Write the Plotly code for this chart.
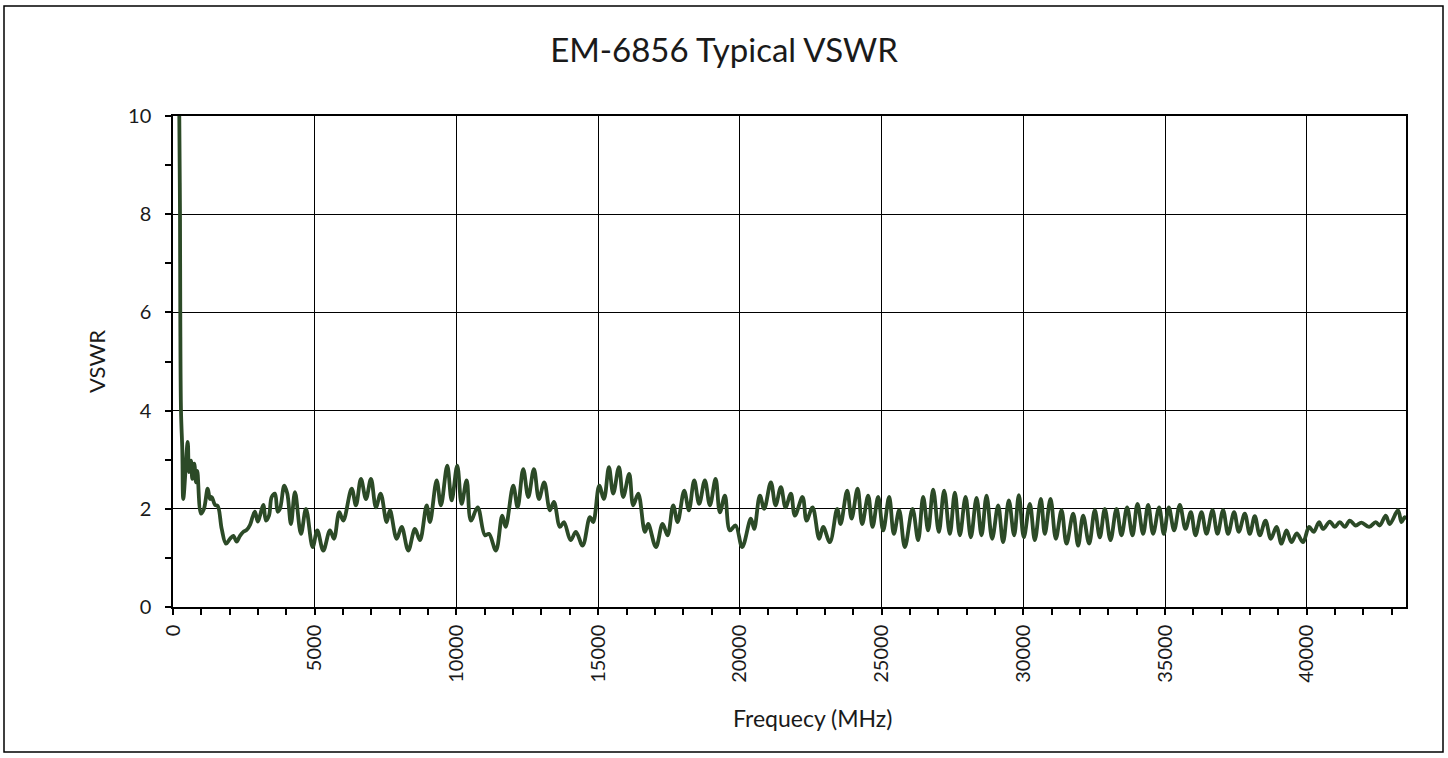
import plotly.graph_objects as go

# Frequency (MHz) and VSWR (peaks / troughs of the ripple)
freq_mhz = [
    200, 222, 247, 257, 282, 328, 363, 519, 564, 635, 681, 751, 811, 857, 988, 1093,
    1224, 1305, 1365, 1481, 1577, 1718, 1869, 2011, 2127, 2247, 2363, 2480, 2600, 2716,
    2811, 2892, 2988, 3069, 3185, 3280, 3386, 3481, 3598, 3693, 3774, 3926, 4032, 4162,
    4303, 4515, 4691, 4928, 5090, 5302, 5538, 5679, 5866, 6007, 6303, 6455, 6631, 6808,
    6984, 7160, 7326, 7538, 7654, 7891, 8067, 8300, 8536,
    8712, 8949, 9065, 9302, 9453, 9675, 9831, 10028, 10183, 10360, 10511, 10748, 11005,
    11146, 11393, 11615, 11735, 12003, 12159, 12356, 12533, 12734, 12910, 13097,
    13298, 13439, 13651, 13792, 14028, 14215, 14451, 14709, 14825, 15037, 15203, 15379,
    15531, 15732, 15883, 16095, 16236, 16413, 16649, 16765, 17037, 17273, 17449,
    17647, 17802, 18035, 18201, 18388, 18564, 18765, 18942, 19143, 19294, 19471, 19647,
    19848, 20081, 20388, 20504, 20705, 20857, 21093, 21259, 21446, 21611, 21799, 21940,
    22211, 22352, 22564, 22796, 22938, 23174, 23432, 23552, 23785, 23940, 24152, 24314,
    24525, 24681, 24878, 25055, 25266, 25432, 25619, 25820, 26091, 26289,
    26465, 26641, 26818, 27019, 27206, 27407, 27583, 27760, 27961, 28148, 28349, 28525,
    28702, 28899, 29111, 29287, 29488, 29675, 29841, 30017, 30229, 30405, 30617,
    30758, 30959, 31146, 31347, 31523, 31757, 31933, 32109, 32321, 32521, 32698, 32874,
    33075, 33287, 33463, 33661, 33851, 34027, 34226, 34402, 34578, 34790, 34956,
    35132, 35319, 35520, 35721, 35908, 36074, 36285, 36462, 36673, 36849, 37047, 37224,
    37435, 37601, 37813, 37989, 38165, 38342, 38543, 38730, 38931, 39107, 39284, 39460,
    39647, 39868, 40080, 40247, 40433, 40574, 40811, 40987, 41164, 41340, 41516, 41728,
    41929, 42197, 42433, 42574, 42786, 42925, 43220, 43340, 43456, 43500,
]
vswr = [
    13.0, 10.0, 8.0, 6.0, 4.0, 3.2, 2.2, 3.36, 2.75, 2.98, 2.61, 2.92, 2.54, 2.77, 1.90, 2.00,
    2.41, 2.20, 2.24, 2.08, 2.06, 1.59, 1.29, 1.39, 1.45, 1.33, 1.45, 1.53, 1.57, 1.67,
    1.84, 1.94, 1.74, 1.86, 2.08, 1.76, 1.86, 2.24, 2.31, 1.94, 2.00, 2.47, 2.31, 1.69,
    2.34, 1.49, 2.00, 1.22, 1.56, 1.15, 1.56, 1.39, 1.93, 1.76, 2.41, 2.07, 2.61, 2.20,
    2.61, 2.03, 2.31, 1.73, 1.97, 1.39, 1.63, 1.15, 1.59,
    1.36, 2.07, 1.73, 2.58, 2.07, 2.88, 2.17, 2.88, 2.10, 2.58, 1.76, 2.03, 1.46,
    1.49, 1.15, 1.86, 1.63, 2.47, 2.03, 2.81, 2.24, 2.81, 2.20, 2.54,
    1.97, 2.14, 1.63, 1.73, 1.36, 1.53, 1.25, 1.83, 1.73, 2.47, 2.20, 2.85,
    2.31, 2.85, 2.24, 2.71, 2.07, 2.31, 1.53, 1.69, 1.22, 1.69, 1.46,
    2.07, 1.73, 2.37, 1.97, 2.58, 2.10, 2.58, 2.07, 2.61, 1.93, 2.27, 1.56,
    1.66, 1.22, 1.80, 1.59, 2.27, 2.00, 2.54, 2.07, 2.44, 2.03, 2.31, 1.86,
    2.24, 1.76, 2.03, 1.39, 1.63, 1.32, 2.00, 1.69, 2.37, 1.80, 2.41, 1.69,
    2.27, 1.63, 2.24, 1.56, 2.24, 1.49, 1.97, 1.22, 2.00, 1.36,
    2.24, 1.56, 2.39, 1.53, 2.37, 1.49, 2.33, 1.46, 2.24, 1.42, 2.22, 1.46,
    2.27, 1.39, 2.07, 1.32, 2.17, 1.46, 2.28, 1.42, 2.10, 1.36, 2.20,
    1.49, 2.20, 1.39, 1.97, 1.29, 1.90, 1.25, 1.86, 1.29, 1.97, 1.42, 2.00,
    1.36, 2.00, 1.46, 2.03, 1.46, 2.10, 1.49, 2.08, 1.49, 2.03, 1.49,
    2.03, 1.56, 2.08, 1.59, 1.93, 1.46, 1.93, 1.49, 1.97, 1.49, 1.97, 1.49,
    1.93, 1.53, 1.90, 1.49, 1.85, 1.46, 1.76, 1.39, 1.63, 1.29, 1.56, 1.32,
    1.50, 1.32, 1.63, 1.53, 1.73, 1.59, 1.74, 1.63, 1.73, 1.63, 1.76, 1.66,
    1.72, 1.63, 1.73, 1.66, 1.86, 1.69, 1.97, 1.73, 1.83, 1.78,
]

title_text = "EM-6856 Typical VSWR"
x_title = "Frequecy (MHz)"
y_title = "VSWR"

W, H = 1448, 758
L, R, T, B = 173, 42, 116, 151
pw, ph = W - L - R, H - T - B

FONT = "Lato, 'Open Sans', sans-serif"
TXT = "#1a1a1a"

fig = go.Figure()
fig.add_trace(go.Scatter(
    x=freq_mhz, y=vswr, mode="lines",
    line=dict(color="#2C4A27", width=3.8, shape="spline", smoothing=1.0),
    hoverinfo="x+y", showlegend=False,
))

axis_common = dict(
    showline=True, linecolor="#000000", linewidth=1.5, mirror=True,
    showgrid=True, gridcolor="#000000", gridwidth=1.4,
    ticks="outside", ticklen=6, tickcolor="#000000", tickwidth=1.5,
    zeroline=False,
    tickfont=dict(family=FONT, size=20, color=TXT),
)

fig.update_xaxes(
    range=[0, 43500], tick0=0, dtick=5000, tickangle=-90, tickformat="d",
    minor=dict(dtick=1000, ticks="outside", ticklen=6, tickcolor="#000000",
               tickwidth=1.5, showgrid=False),
    ticklabelstandoff=2,
    **axis_common,
)
fig.update_yaxes(
    range=[0, 10], tick0=0, dtick=2,
    minor=dict(dtick=1, ticks="outside", ticklen=6, tickcolor="#000000",
               tickwidth=1.5, showgrid=False),
    title=dict(text=y_title, font=dict(family=FONT, size=22, color=TXT), standoff=16),
    ticklabelstandoff=10,
    **axis_common,
)

# x-axis title placed as in the reference (slightly right of plot centre)
fig.add_annotation(
    text=x_title, xref="paper", yref="paper",
    x=(812 - L) / pw, y=(H - B - 718) / ph, xanchor="center", yanchor="middle",
    showarrow=False, font=dict(family=FONT, size=23, color=TXT),
)

# outer chart border
x0 = (4 - L) / pw
x1 = (1443 - L) / pw
y1 = (H - B - 6) / ph
y0 = (H - B - 752) / ph
fig.add_shape(type="rect", xref="paper", yref="paper", x0=x0, x1=x1, y0=y0, y1=y1,
              line=dict(color="#000000", width=1.5), fillcolor="rgba(0,0,0,0)",
              layer="below")

fig.update_layout(
    width=W, height=H,
    margin=dict(l=L, r=R, t=T, b=B),
    paper_bgcolor="#ffffff", plot_bgcolor="#ffffff",
    title=dict(text=title_text, x=0.5, xref="container", xanchor="center",
               y=1 - 50 / H, yref="container", yanchor="middle",
               font=dict(family=FONT, size=33, color=TXT)),
)

fig.write_html(
    "out.html",
    config={"displayModeBar": False},
    post_script="document.body.style.margin='0px';document.body.style.overflow='hidden';",
)
